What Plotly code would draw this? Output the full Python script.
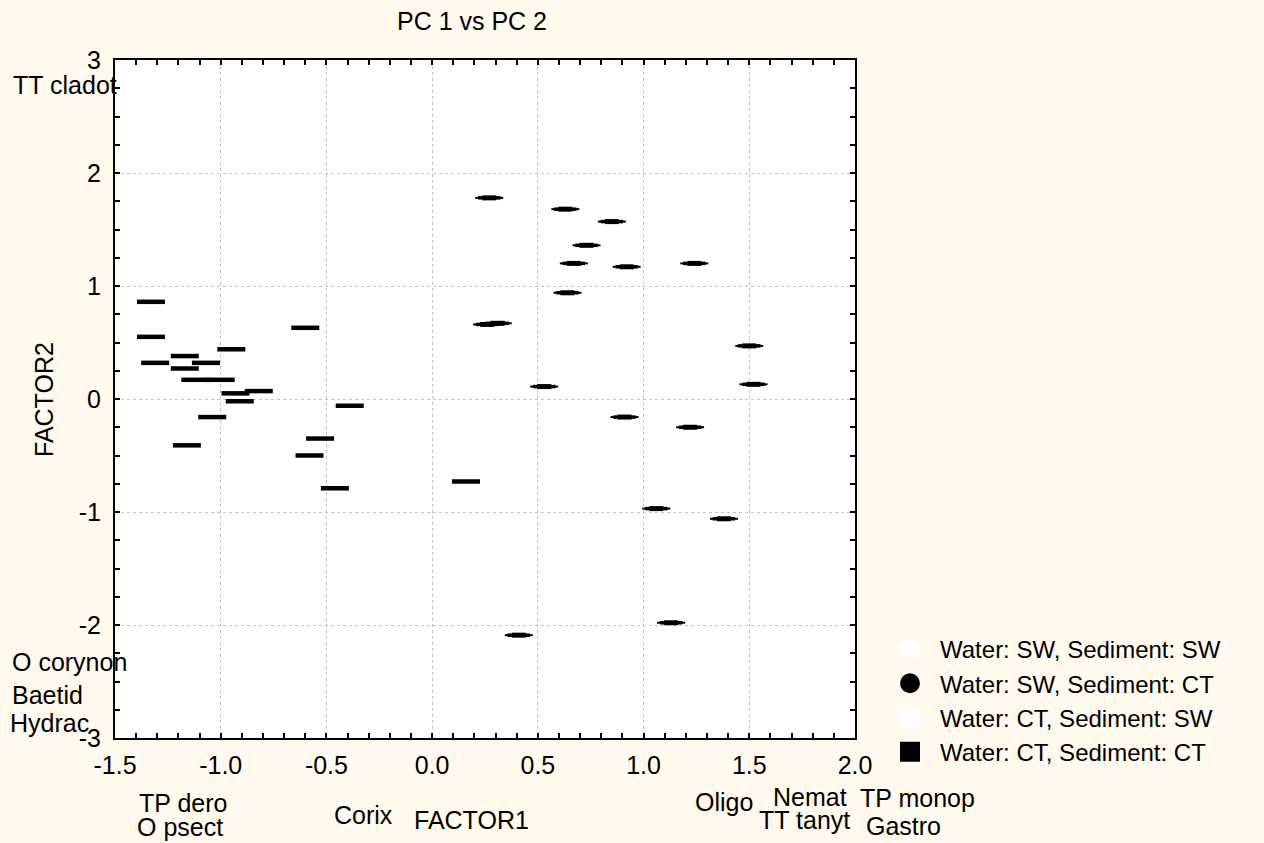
import plotly.graph_objects as go

# ---------------- data ----------------
x_tick_vals = [-1.5, -1.0, -0.5, 0.0, 0.5, 1.0, 1.5, 2.0]
x_tick_text = ["-1.5", "-1.0", "-0.5", "0.0", "0.5", "1.0", "1.5", "2.0"]
y_tick_vals = [-3, -2, -1, 0, 1, 2, 3]
y_tick_text = ["-3", "-2", "-1", "0", "1", "2", "3"]

# Water: CT, Sediment: CT (filled squares)
ct_ct_x = [-1.33, -1.33, -1.31, -1.17, -1.17, -1.07, -1.12, -1.00, -0.95, -0.93,
           -0.82, -0.91, -1.04, -1.16, -0.60, -0.39, -0.53, -0.58, -0.46, 0.16]
ct_ct_y = [0.86, 0.55, 0.32, 0.38, 0.27, 0.32, 0.17, 0.17, 0.44, 0.05,
           0.07, -0.02, -0.16, -0.41, 0.63, -0.06, -0.35, -0.50, -0.79, -0.73]

# Water: SW, Sediment: CT (filled circles)
sw_ct_x = [0.27, 0.63, 0.85, 0.73, 0.67, 0.92, 0.64, 0.26, 0.31, 1.24,
           1.50, 1.52, 0.53, 0.91, 1.22, 1.06, 1.38, 1.13, 0.41]
sw_ct_y = [1.78, 1.68, 1.57, 1.36, 1.20, 1.17, 0.94, 0.66, 0.67, 1.20,
           0.47, 0.13, 0.11, -0.16, -0.25, -0.97, -1.06, -1.98, -2.09]

legend_names = ["Water: SW, Sediment: SW", "Water: SW, Sediment: CT",
                "Water: CT, Sediment: SW", "Water: CT, Sediment: CT"]

title_text = "PC 1 vs PC 2"
x_title = "FACTOR1"
y_title = "FACTOR2"

# ---------------- layout helpers ----------------
W, H = 1264, 843
L, R, T, B = 115, 855, 60, 738
FONT = "Liberation Sans, Arial, sans-serif"
FS = 25
BG = "#FFF9EE"


def px_x(px):
    return (px - L) / (R - L)


def px_y(py):
    return (B - py) / (B - T)


fig = go.Figure()

# squares drawn (horizontally squashed) as thick bars
fig.add_trace(go.Scatter(
    x=ct_ct_x, y=ct_ct_y, mode="markers", showlegend=False, hoverinfo="skip",
    marker=dict(symbol="line-ew", size=20, line=dict(width=4.5, color="black"))))

# circles drawn (horizontally squashed) as tapered ellipses
for sz, lw in [(20, 2), (16, 3.5), (10, 5)]:
    fig.add_trace(go.Scatter(
        x=sw_ct_x, y=sw_ct_y, mode="markers", showlegend=False, hoverinfo="skip",
        marker=dict(symbol="line-ew", size=sz, line=dict(width=lw, color="black"))))

# legend entries
legend_styles = [("circle", "white"), ("circle", "black"),
                 ("square", "white"), ("square", "black")]
for name, (sym, col) in zip(legend_names, legend_styles):
    fig.add_trace(go.Scatter(
        x=[None], y=[None], mode="markers", name=name,
        marker=dict(symbol=sym, size=16, color=col, line=dict(width=4, color=col))))

axis_common = dict(
    showline=True, linecolor="black", linewidth=2, mirror="allticks",
    ticks="inside", ticklen=5, tickwidth=1.5, tickcolor="black",
    showgrid=True, gridcolor="#C4C4C4", griddash="dot", gridwidth=1,
    zeroline=False, tickfont=dict(family=FONT, size=FS, color="black"),
)

fig.update_xaxes(
    range=[-1.5, 2.0], tickmode="array", tickvals=x_tick_vals, ticktext=x_tick_text,
    minor=dict(dtick=0.1, tick0=0, ticks="inside", ticklen=5, tickwidth=1.5,
               tickcolor="black", showgrid=False),
    ticklabelstandoff=4, **axis_common)
fig.update_yaxes(
    range=[-3, 3], tickmode="array", tickvals=y_tick_vals, ticktext=y_tick_text,
    minor=dict(dtick=0.25, tick0=0, ticks="inside", ticklen=5, tickwidth=1.5,
               tickcolor="black", showgrid=False),
    ticklabelstandoff=7, **axis_common)


def ann(text, px, py, anchor="left", angle=0):
    return dict(text=text, xref="paper", yref="paper", x=px_x(px), y=px_y(py),
                xanchor=anchor, yanchor="middle", showarrow=False, textangle=angle,
                font=dict(family=FONT, size=FS, color="black"))


annotations = [
    ann("TT cladot", 11, 85),
    ann("O corynon", 10, 662),
    ann("Baetid", 10, 695),
    ann("Hydrac", 8, 723),
    ann("TP dero", 137, 803),
    ann("O psect", 135, 827),
    ann("Corix", 332, 815),
    ann(x_title, 412, 820),
    ann("Oligo", 693, 802),
    ann("Nemat", 771, 797),
    ann("TT tanyt", 757, 820),
    ann("TP monop", 858, 798),
    ann("Gastro", 864, 826),
    ann(y_title, 44, 400, anchor="center", angle=-90),
]

fig.update_layout(
    width=W, height=H,
    margin=dict(l=L, r=W - R, t=T, b=H - B, pad=0),
    paper_bgcolor=BG, plot_bgcolor="white",
    font=dict(family=FONT, size=FS, color="black"),
    title=dict(text=title_text, x=px_x(472), xref="paper", xanchor="center",
               y=1 - 21 / H, yref="container", yanchor="middle",
               font=dict(family=FONT, size=FS, color="black")),
    showlegend=True,
    legend=dict(x=px_x(880), y=px_y(627), xanchor="left", yanchor="top",
                bgcolor="rgba(0,0,0,0)", borderwidth=0, itemwidth=50,
                font=dict(family=FONT, size=24, color="black"),
                tracegroupgap=0),
    annotations=annotations,
)

fig.write_html("out.html")
